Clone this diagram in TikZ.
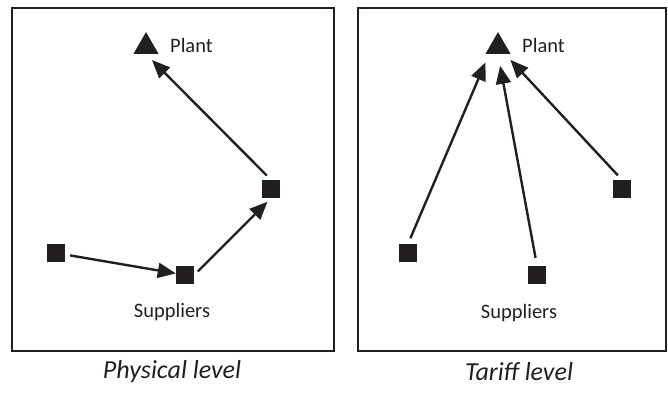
\documentclass[tikz,border=0pt]{standalone}
\usepackage{fontspec}
\setmainfont{Carlito}
\usepackage{xcolor}
\usetikzlibrary{arrows.meta,shapes.geometric,calc}

\definecolor{ink}{RGB}{35,31,32}

\tikzset{
  frame/.style={draw=ink, line width=2.4pt},
  supplier/.style={rectangle, fill=ink, minimum size=18pt, inner sep=0pt},
  plant/.style={regular polygon, regular polygon sides=3, fill=ink, minimum size=29pt, inner sep=0pt},
  flow/.style={draw=ink, line width=2.4pt, -{Triangle[length=18pt,width=15pt]}},
  lbl/.style={font=\fontsize{20.5}{24}\selectfont, text=ink, inner sep=0pt},
  caption/.style={font=\fontsize{26}{30}\selectfont\itshape, text=ink, inner sep=0pt}
}

\begin{document}
\begin{tikzpicture}[x=1pt,y=-1pt]
        \useasboundingbox (0,0) rectangle (668,394);

        % Physical level
        \draw[frame] (12,8) rectangle (334,351);
        \node[plant] (plantL) at (146,46.6) {};
        \node[lbl, anchor=west] (plantLtxt) at (170,45) {Plant};
        \node[supplier] (s1) at (56,253) {};
        \node[supplier] (s2) at (185,275) {};
        \node[supplier] (s3) at (271,189) {};
        \node[lbl] (supL) at (172,312) {Suppliers};
        \node[caption] (capL) at (172,372) {Physical level};

        \draw[flow, shorten <=5pt] (s1) -- (s2);
        \draw[flow, shorten <=5pt, shorten >=5pt] (s2.east) -- (s3.south);
        \draw[flow, shorten <=6pt, shorten >=8.5pt] (s3.north) -- (plantL.south);

        % Tariff level
        \draw[frame] (358,8) rectangle (666,351);
        \node[plant] (plantR) at (498,46.6) {};
        \node[lbl, anchor=west] (plantRtxt) at (522,45) {Plant};
        \node[supplier] (sA) at (408,253) {};
        \node[supplier] (sB) at (537,275) {};
        \node[supplier] (sC) at (622,189) {};
        \node[lbl] (supR) at (519,313) {Suppliers};
        \node[caption] (capR) at (519,372) {Tariff level};

        \draw[flow, shorten <=6pt, shorten >=9pt] (sA.north) -- ($(plantR.south)+(-9,0)$);
        \draw[flow, shorten <=8pt, shorten >=12pt] (sB.north) -- (plantR.south);
        \draw[flow, shorten <=6pt, shorten >=8pt] (sC.north) -- (plantR);
\end{tikzpicture}
\end{document}
